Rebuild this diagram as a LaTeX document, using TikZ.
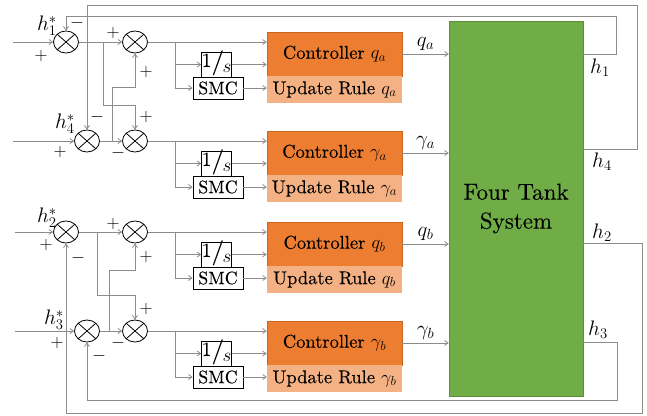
\RequirePackage{fix-cm}
\documentclass[tikz,border=0pt]{standalone}
\usepackage{fontspec}
\setmainfont{lmroman10-regular.otf}[FakeBold=0.15]
\usetikzlibrary{arrows.meta,shapes.geometric}

\definecolor{wiregray}{HTML}{8C8C8C}
\definecolor{ctrlorange}{HTML}{ED7D31}
\definecolor{ctrlborder}{HTML}{C8661F}
\definecolor{updsalmon}{HTML}{F4B183}
\definecolor{plantgreen}{HTML}{70AD47}
\definecolor{plantborder}{HTML}{5A8F37}

% skewed fraction 1/s used inside the integrator boxes
\newcommand\onebys{\raisebox{2pt}{\fontsize{20}{20}\selectfont 1}\raisebox{0pt}{\fontsize{25}{25}\selectfont /}\kern-1.5pt\raisebox{-3pt}{\fontsize{19}{19}\selectfont$s$}}

\begin{document}
\begin{tikzpicture}[x=1pt,y=-1pt,
  wire/.style={draw=wiregray,line width=0.8pt},
  arr/.style={wire,-{Straight Barb[length=3.5pt,width=5pt]}},
  summer/.style={ellipse,draw=black,line width=0.8pt,minimum width=25pt,minimum height=22pt,
    inner sep=0pt,fill=white,
    path picture={\draw[black,line width=0.8pt]
      (path picture bounding box.south west) -- (path picture bounding box.north east)
      (path picture bounding box.north west) -- (path picture bounding box.south east);}},
  intbox/.style={draw=black,fill=white,line width=0.8pt,minimum width=27pt,minimum height=25pt,
    inner sep=0pt,text height=12pt,text depth=3pt},
  smcbox/.style={draw=black,fill=white,line width=0.8pt,minimum width=50pt,minimum height=22pt,
    inner sep=0pt,font=\fontsize{18}{18}\selectfont},
  ctrl/.style={draw=ctrlborder,fill=ctrlorange,line width=0.6pt,minimum width=135pt,minimum height=44pt,
    inner sep=0pt,font=\fontsize{18.5}{18.5}\selectfont},
  upd/.style={fill=updsalmon,minimum width=135pt,minimum height=27pt,inner sep=0pt,
    font=\fontsize{18.5}{18.5}\selectfont},
  plant/.style={draw=plantborder,fill=plantgreen,line width=0.6pt,minimum width=134pt,minimum height=375pt,
    inner sep=0pt,align=center,font=\fontsize{23}{29}\selectfont},
  sgn/.style={inner sep=0pt,font=\fontsize{18}{18}\selectfont},
  hlab/.style={inner sep=0pt,font=\fontsize{21}{21}\selectfont},
  qlab/.style={inner sep=0pt,font=\fontsize{21}{21}\selectfont}
]
\useasboundingbox (0,0) rectangle (647,415);

% plant
\node[plant] (sys) at (516,208.5) {Four Tank\\System};

% first-stage summing junctions (reference minus measurement)
\node[summer] (s1) at (66,42) {};
\node[summer] (s4) at (87,141) {};
\node[summer] (s2) at (66,232) {};
\node[summer] (s3) at (87,331) {};
% second-stage summing junctions (decoupling)
\node[summer] (sb1) at (135,42) {};
\node[summer] (sb4) at (135,141) {};
\node[summer] (sb2) at (135,232) {};
\node[summer] (sb3) at (135,331) {};

% reference labels
\node[hlab] (r1lab) at (47,26) {$h_1^*$};
\node[hlab] (r4lab) at (65,124) {$h_4^*$};
\node[hlab] (r2lab) at (47,218) {$h_2^*$};
\node[hlab] (r3lab) at (54,320) {$h_3^*$};

% reference inputs
\coordinate (in1) at (13,42);
\coordinate (in4) at (13,141);
\coordinate (in2) at (15,232);
\coordinate (in3) at (15,331);
\draw[arr] (in1) -- (s1.west);
\draw[arr] (in4) -- (s4.west);
\draw[arr] (in2) -- (s2.west);
\draw[arr] (in3) -- (s3.west);

% errors into the second stage
\draw[arr] (s1.east) -- (sb1.west);
\draw[arr] (s4.east) -- (sb4.west);
\draw[arr] (s2.east) -- (sb2.west);
\draw[arr] (s3.east) -- (sb3.west);

% cross coupling between paired loops
\coordinate (j1) at (103,42);
\coordinate (j4) at (112,141);
\coordinate (j2) at (97,232);
\coordinate (j3) at (109,331);
\draw[arr] (j1) -- (103,105) -| (sb4.north);
\draw[arr] (j4) -- (112,87) -| (sb1.south);
\draw[arr] (j2) -- (97,295) -| (sb3.north);
\draw[arr] (j3) -- (109,270) -| (sb2.south);

% signs
\node[sgn] (p1a) at (77,23) {$-$};
\node[sgn] (p1b) at (41,56) {$+$};
\node[sgn] (p1c) at (113,33) {$+$};
\node[sgn] (p1d) at (146,72) {$+$};
\node[sgn] (p4a) at (97,117) {$-$};
\node[sgn] (p4b) at (60,152) {$+$};
\node[sgn] (p4c) at (146,117) {$+$};
\node[sgn] (p4d) at (118,153) {$-$};
\node[sgn] (p2a) at (46,245) {$+$};
\node[sgn] (p2b) at (78,258) {$-$};
\node[sgn] (p2c) at (113,224) {$+$};
\node[sgn] (p2d) at (146,257) {$+$};
\node[sgn] (p3a) at (57,343) {$+$};
\node[sgn] (p3b) at (99,356) {$-$};
\node[sgn] (p3c) at (146,309) {$+$};
\node[sgn] (p3d) at (118,343) {$-$};

% controller rows
\foreach \r/\Y/\lab in {1/42/q_a, 4/141/\gamma_a, 2/232/q_b, 3/331/\gamma_b}{
  \coordinate (br\r) at (175,\Y);
  \node[ctrl] (ctrl\r) at (334.5,\Y+12) {Controller $\lab$};
  \node[upd] (upd\r) at (334.5,\Y+47.5) {Update Rule $\lab$};
  \node[intbox] (int\r) at (216.5,\Y+22.5) {\onebys};
  \node[smcbox] (smc\r) at (218,\Y+46) {SMC};
  \draw[arr] (sb\r.east) -- (ctrl\r.west |- sb\r.east);
  \draw[arr] (br\r) |- (int\r.west);
  \draw[arr] (br\r) |- (smc\r.west);
  \draw[arr] (int\r.east) -- (ctrl\r.west |- int\r.east);
  \draw[arr] (smc\r.east) -- (upd\r.west |- smc\r.east);
  \draw[arr] (ctrl\r.east) -- node[qlab,above=3pt] (u\r) {$\lab$} (sys.west |- ctrl\r.east);
}

% plant outputs and feedback loops
\coordinate (out1) at (sys.east |- 0,54);
\coordinate (out4) at (sys.east |- 0,149);
\coordinate (out2) at (sys.east |- 0,243);
\coordinate (out3) at (sys.east |- 0,342);
\draw[arr] (out1) -- (616,54) -- (616,16) -| (s1.north);
\draw[arr] (out4) -- (637,149) -- (637,5) -| (s4.north);
\draw[arr] (out2) -- (642,243) -- (642,413) -| (s2.south);
\draw[arr] (out3) -- (617,342) -- (617,400) -| (s3.south);

\node[hlab] (h1lab) at (600,68) {$h_1$};
\node[hlab] (h4lab) at (602,162) {$h_4$};
\node[hlab] (h2lab) at (602,233) {$h_2$};
\node[hlab] (h3lab) at (598,330) {$h_3$};
\end{tikzpicture}
\end{document}
